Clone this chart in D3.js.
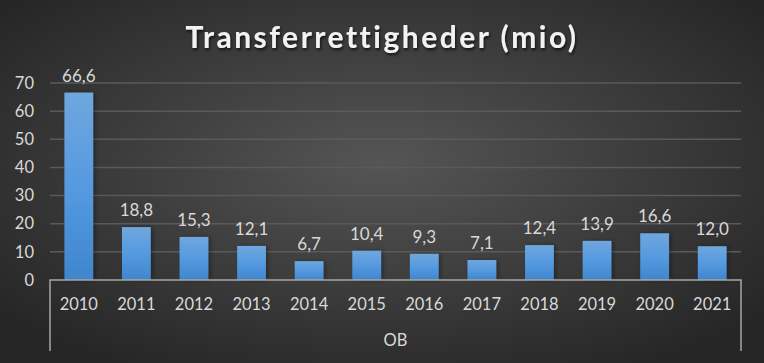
<!DOCTYPE html>
<html><head><meta charset="utf-8">
<script src="https://cdn.jsdelivr.net/npm/d3@7"></script>
<style>body{margin:0;background:#333;}svg{display:block;}</style>
</head><body>
<svg id="c" width="764" height="363"></svg>
<script>
const categories = ["2010","2011","2012","2013","2014","2015","2016","2017","2018","2019","2020","2021"];
const values = [66.6,18.8,15.3,12.1,6.7,10.4,9.3,7.1,12.4,13.9,16.6,12.0];
const yTicks = [0,10,20,30,40,50,60,70];
const groupLabel = "OB";
const title = "Transferrettigheder (mio)";

const W=764,H=363;
const svg=d3.select("#c");
const defs=svg.append("defs");
const rg=defs.append("radialGradient").attr("id","bg").attr("cx","50%").attr("cy","45%").attr("r","65%");
rg.append("stop").attr("offset","0%").attr("stop-color","#555555");
rg.append("stop").attr("offset","100%").attr("stop-color","#262626");
const bg=defs.append("linearGradient").attr("id","bar").attr("x1",0).attr("y1",0).attr("x2",0).attr("y2",1);
bg.append("stop").attr("offset","0%").attr("stop-color","#6fa7dd");
bg.append("stop").attr("offset","50%").attr("stop-color","#559ae0");
bg.append("stop").attr("offset","100%").attr("stop-color","#3f86cc");
const f=defs.append("filter").attr("id","sh").attr("x","-10%").attr("y","-30%").attr("width","120%").attr("height","160%");
f.append("feDropShadow").attr("dx",1).attr("dy",2).attr("stdDeviation",1.5).attr("flood-color","#000").attr("flood-opacity",0.7);
const fb=defs.append("filter").attr("id","bsh").attr("x","-30%").attr("y","-10%").attr("width","160%").attr("height","120%");
fb.append("feDropShadow").attr("dx",2).attr("dy",0).attr("stdDeviation",2).attr("flood-color","#000").attr("flood-opacity",0.35);

svg.append("rect").attr("width",W).attr("height",H).attr("fill","url(#bg)");

const font="Lato, 'Open Sans', sans-serif";
const x=d3.scaleBand().domain(categories).range([50,741]).paddingInner(0.5).paddingOuter(0.25);
const y=d3.scaleLinear().domain([0,70]).range([280,83]);

svg.append("g").selectAll("line").data(yTicks.filter(d=>d>0)).join("line")
 .attr("x1",50).attr("x2",741).attr("y1",d=>y(d)).attr("y2",d=>y(d))
 .attr("stroke","#5a5a5a").attr("stroke-width",1.5);

svg.append("g").selectAll("text").data(yTicks).join("text")
 .attr("x",34).attr("y",d=>y(d)).attr("dy","0.35em").attr("text-anchor","end")
 .attr("fill","#d9d9d9").attr("font-family",font).attr("font-size",16.5).text(d=>d);

svg.append("g").selectAll("rect").data(values).join("rect")
 .attr("x",(d,i)=>x(categories[i])).attr("width",x.bandwidth())
 .attr("y",d=>y(d)).attr("height",d=>y(0)-y(d))
 .attr("fill","url(#bar)").attr("filter","url(#bsh)");

svg.append("g").selectAll("text").data(values).join("text")
 .attr("x",(d,i)=>x(categories[i])+x.bandwidth()/2).attr("y",d=>y(d)-11)
 .attr("text-anchor","middle").attr("fill","#d9d9d9").attr("font-family",font).attr("font-size",17)
 .text(d=>d.toFixed(1).replace(".",","));

const ax=svg.append("g").attr("stroke","#a6a6a6").attr("stroke-width",1.5).attr("fill","none");
ax.append("path").attr("d",`M50,351V280H741V351`);

svg.append("g").selectAll("text").data(categories).join("text")
 .attr("x",d=>x(d)+x.bandwidth()/2).attr("y",304).attr("dy","0.35em").attr("text-anchor","middle")
 .attr("fill","#d9d9d9").attr("font-family",font).attr("font-size",16.5).text(d=>d);
svg.append("text").attr("x",395.5).attr("y",340).attr("dy","0.35em").attr("text-anchor","middle")
 .attr("fill","#d9d9d9").attr("font-family",font).attr("font-size",16.5).text(groupLabel);

svg.append("text").attr("x",382).attr("y",37).attr("dy","0.35em").attr("text-anchor","middle")
 .attr("fill","#f2f2f2").attr("font-family",font).attr("font-weight","bold").attr("font-size",30)
 .attr("letter-spacing","2.5px").attr("filter","url(#sh)").text(title);
</script>
</body></html>
